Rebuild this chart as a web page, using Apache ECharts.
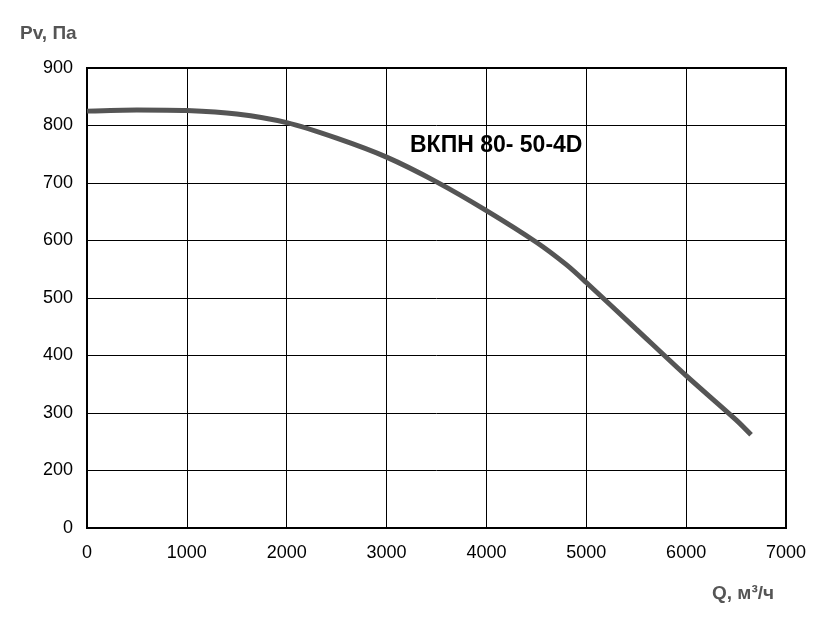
<!DOCTYPE html><html><head><meta charset="utf-8"><script src="https://cdn.jsdelivr.net/npm/echarts@6/dist/echarts.min.js"></script></head><body style="margin:0"><div id="c" style="width:818px;height:621px"></div><script>
const qValues=[0,500,1000,1500,2000,2500,3000,3500,4000,4500,4800,5000,5500,6000,6500,6650];
const pValues=[825,827,826,820,805,778,745,702,652,597,558,527,446,365,288,262];
const yTicks=[100,200,300,400,500,600,700,800,900];
const ch=echarts.init(document.getElementById('c'));
ch.setOption({animation:false,
grid:{left:87,right:32,top:68,bottom:93},
xAxis:{type:'value',min:0,max:7000,interval:1000,axisLine:{lineStyle:{color:'#000',width:2}},axisTick:{show:false},
splitLine:{lineStyle:{color:'#000',width:1}},axisLabel:{color:'#000',fontSize:18,margin:16,fontFamily:'Arial',formatter:v=>String(v)}},
yAxis:{type:'value',min:100,max:900,interval:100,axisLine:{show:true,lineStyle:{color:'#000',width:2}},axisTick:{show:false},
splitLine:{lineStyle:{color:'#000',width:1}},axisLabel:{color:'#000',fontSize:18,margin:14,fontFamily:'Arial',formatter:v=>v===100?'0':String(v)}},
graphic:[
{type:'rect',shape:{x:87,y:68,width:699,height:460},style:{fill:'none',stroke:'#000',lineWidth:2}},
{type:'text',left:20,top:24,style:{text:'Pv, Па',fill:'#555',font:'bold 19px Arial'}},
{type:'text',left:712,top:584,style:{text:'Q, м³/ч',fill:'#555',font:'bold 19px Arial'}},
{type:'text',left:410,top:134,style:{text:'ВКПН 80- 50-4D',fill:'#000',font:'bold 23px Arial'}}
],
series:[{type:'line',data:qValues.map((q,i)=>[q,pValues[i]]),smooth:0.3,symbol:'none',lineStyle:{color:'#555',width:5}}]});
</script></body></html>
